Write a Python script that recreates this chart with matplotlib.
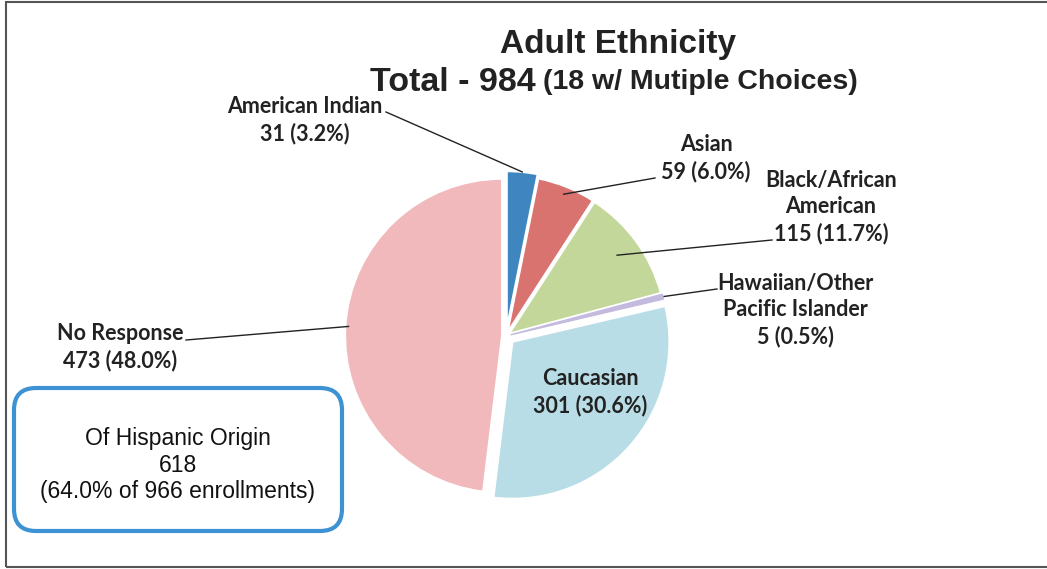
import numpy as np
import matplotlib.pyplot as plt
from matplotlib.patches import FancyBboxPatch, Rectangle

W, H = 1047, 569

# data
categories = ["American Indian", "Asian", "Black/African\nAmerican", "Hawaiian/Other\nPacific Islander",
              "Caucasian", "No Response"]
counts = [31, 59, 115, 5, 301, 473]
percents = [3.2, 6.0, 11.7, 0.5, 30.6, 48.0]
colors = ["#3f86c0", "#d9736f", "#c3d79b", "#c3bade", "#b9dde6", "#f1b9bc"]
explode = [0.05, 0.025, 0.025, 0.03, 0.055, 0.025]

total = 984
hispanic = 618
hispanic_pct = 64.0
enrollments = 966

fig = plt.figure(figsize=(W / 100, H / 100), dpi=100)
ax = fig.add_axes([0, 0, 1, 1])

cx, cy, R = 506, H - 336, 157
# pie explode is in data units, so scale it by the radius
wedges, _ = ax.pie(counts, colors=colors, explode=[e * R for e in explode], startangle=90,
                   counterclock=False, center=(cx, cy), radius=R, frame=True,
                   wedgeprops=dict(edgecolor="white", linewidth=1.5))
# thin sliver: keep it visible
wedges[3].set_edgecolor(colors[3])
wedges[3].set_linewidth(1.0)
wedges[3].set_zorder(3)
ax.set_xlim(0, W)
ax.set_ylim(0, H)
ax.set_aspect("auto")
ax.axis("off")

# frame round the chart
ax.add_patch(Rectangle((5.5, 2), W, H - 3.5, fill=False, edgecolor="#555555", lw=1.5, zorder=0))

lab_font = dict(family="Lato", weight="bold", fontsize=15.5, color="#222222")

def anchor(i, f=1.0):
    w = wedges[i]
    mid = np.deg2rad((w.theta1 + w.theta2) / 2)
    x0, y0 = w.center
    return x0 + w.r * f * np.cos(mid), y0 + w.r * f * np.sin(mid)

# label layout: (text x, text y, line start x, line start y, fraction of radius)
layout = [
    (305, 120, 386, 112, 1.0),
    (706, 158, 655, 178, 0.95),
    (831, 207, 772, 240, 0.85),
    (795, 310, 717, 289, 1.0),
    None,
    (120, 347, 186, 340, 0.98),
]

for i, lay in enumerate(layout):
    txt = f"{categories[i]}\n{counts[i]} ({percents[i]:.1f}%)"
    if lay is None:
        ax.text(590, H - 392, txt, ha="center", va="center", linespacing=1.3, **lab_font)
        continue
    tx, ty, lx, ly, f = lay
    ax.text(tx, H - ty, txt, ha="center", va="center", linespacing=1.3, **lab_font)
    ax_, ay_ = anchor(i, f)
    ax.plot([lx, ax_], [H - ly, ay_], color="#222222", lw=1.0)

# title
ax.text(618, H - 44, "Adult Ethnicity", ha="center", va="center",
        family="Liberation Sans", weight="bold", fontsize=24, color="#222222")
ax.text(370, H - 82, f"Total - {total}", ha="left", va="center",
        family="Liberation Sans", weight="bold", fontsize=24.5, color="#222222")
ax.text(543, H - 82, "(18 w/ Mutiple Choices)", ha="left", va="center",
        family="Liberation Sans", weight="bold", fontsize=20.5, color="#222222")

# hispanic box
ax.add_patch(FancyBboxPatch((14, H - 531), 328, 143, boxstyle="round,pad=0,rounding_size=22",
                            fill=False, edgecolor="#3d92d3", lw=3))
ax.text(178, H - 465, f"Of Hispanic Origin\n{hispanic}\n({hispanic_pct:.1f}% of {enrollments} enrollments)",
        ha="center", va="center", family="Liberation Sans", fontsize=16.5, linespacing=1.2, color="#111111")

plt.savefig("out.png", dpi=100)
plt.close()
